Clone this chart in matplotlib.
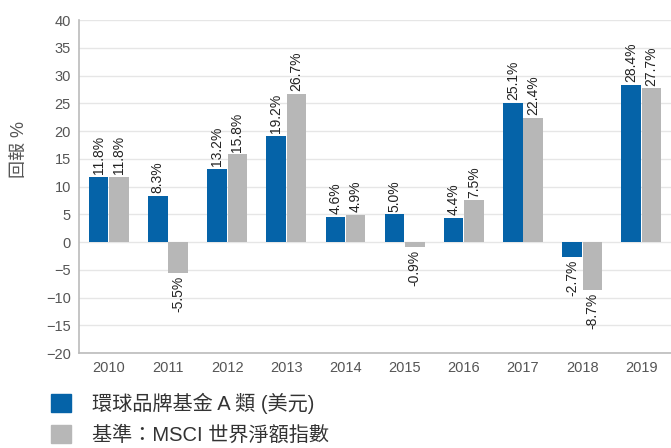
import numpy as np
import matplotlib.pyplot as plt
from matplotlib.patches import Patch

plt.rcParams['font.family'] = ['Liberation Sans', 'Noto Sans CJK TC', 'DejaVu Sans']

years = ['2010', '2011', '2012', '2013', '2014', '2015', '2016', '2017', '2018', '2019']
fund = [11.8, 8.3, 13.2, 19.2, 4.6, 5.0, 4.4, 25.1, -2.7, 28.4]
bench = [11.8, -5.5, 15.8, 26.7, 4.9, -0.9, 7.5, 22.4, -8.7, 27.7]
series_names = ['環球品牌基金 A 類 (美元)', '基準：MSCI 世界淨額指數']

blue = '#0563A8'
grey = '#B7B7B7'
text_col = '#555555'

fig = plt.figure(figsize=(6.71, 4.48), dpi=100)
ax = fig.add_axes([0.118, 0.212, 0.882, 0.743])

x = np.arange(len(years))
w = 0.33
off = 0.172
b1 = ax.bar(x - off, fund, w, color=blue, zorder=3)
b2 = ax.bar(x + off, bench, w, color=grey, zorder=3)

# value labels, rotated, above positive bars and below negative ones
for bars, vals in ((b1, fund), (b2, bench)):
    for rect, v in zip(bars, vals):
        cx = rect.get_x() + rect.get_width() / 2
        dy, va = (2, 'bottom') if v >= 0 else (-2, 'top')
        ax.annotate(f'{v:.1f}%', (cx, v), xytext=(0, dy), textcoords='offset points',
                    rotation=90, ha='center', va=va, fontsize=10, color='#222222')

ax.set_xlim(-0.5, len(years) - 0.5)
ax.set_ylim(-20, 40)
ax.set_yticks(range(-20, 41, 5))
ax.set_xticks(x)
ax.set_xticklabels(years)
ax.tick_params(axis='both', length=0, labelsize=10.5, colors=text_col, pad=6)
ax.grid(axis='y', color='#E6E6E6', linewidth=1, zorder=0)
for side in ('top', 'right'):
    ax.spines[side].set_visible(False)
for side in ('left', 'bottom'):
    ax.spines[side].set_color('#BBBBBB')
    ax.spines[side].set_linewidth(1.2)

fig.text(0.03, 0.667, '回報 %', rotation=90, ha='center', va='center', fontsize=13, color=text_col)

handles = [Patch(color=blue), Patch(color=grey)]
fig.legend(handles, series_names, loc='upper left', bbox_to_anchor=(0.076, 0.124),
           frameon=False, fontsize=14.5, handlelength=1.0, handleheight=1.0,
           handletextpad=1.05, labelspacing=0.55, labelcolor='#333333', borderaxespad=0,
           borderpad=0)

fig.savefig('out.png', dpi=100)
